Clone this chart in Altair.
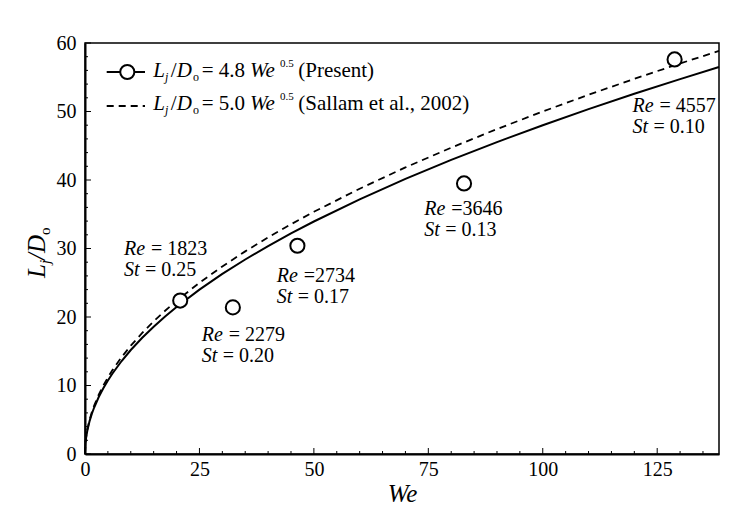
import altair as alt
import pandas as pd

FONT = "Liberation Serif"

# ---- data ----
we_curve = [0, 0.1, 0.25, 0.5, 1, 1.5, 2, 3, 4, 5, 6, 8, 10, 12.5, 15, 17.5, 20, 25, 30,
            35, 40, 45, 50, 60, 70, 80, 90, 100, 110, 120, 130, 138.5]
l_present = [0, 1.518, 2.4, 3.394, 4.8, 5.879, 6.788, 8.314, 9.6, 10.733, 11.758, 13.576,
             15.179, 16.971, 18.590, 20.080, 21.466, 24.0, 26.291, 28.397, 30.358, 32.199,
             33.941, 37.181, 40.160, 42.933, 45.537, 48.0, 50.343, 52.582, 54.729, 56.489]
l_sallam = [0, 1.581, 2.5, 3.536, 5.0, 6.124, 7.071, 8.660, 10.0, 11.180, 12.247, 14.142,
            15.811, 17.678, 19.365, 20.917, 22.361, 25.0, 27.386, 29.580, 31.623, 33.541,
            35.355, 38.730, 41.833, 44.721, 47.434, 50.0, 52.440, 54.772, 57.009, 58.843]

we_pts = [20.8, 32.3, 46.4, 82.8, 128.8]
l_pts = [22.4, 21.4, 30.4, 39.5, 57.6]

re_vals = ["= 1823", "= 2279", "=2734", "=3646", "= 4557"]
st_vals = ["= 0.25", "= 0.20", "= 0.17", "= 0.13", "= 0.10"]
label_we = [8.5, 25.5, 41.9, 74.1, 119.6]
label_l = [29.0, 16.5, 25.1, 34.9, 50.0]

x_major = [0, 25, 50, 75, 100, 125]
x_minor = [v for v in range(5, 140, 5) if v % 25 != 0]
y_major = [0, 10, 20, 30, 40, 50, 60]
y_minor = [v for v in range(2, 60, 2) if v % 10 != 0]

X_DOMAIN = [0, 138.5]
Y_DOMAIN = [0, 60]
W, H = 634, 411

xs = alt.Scale(domain=X_DOMAIN, nice=False, zero=False)
ys = alt.Scale(domain=Y_DOMAIN, nice=False, zero=False)

present_df = pd.DataFrame({"We": we_curve, "L": l_present})
sallam_df = pd.DataFrame({"We": we_curve, "L": l_sallam})
pts_df = pd.DataFrame({"We": we_pts, "L": l_pts})
lab_df = pd.DataFrame({"We": label_we, "L": label_l, "re": re_vals, "st": st_vals})

axis_x = alt.Axis(values=x_major, title="We", ticks=False, grid=False, domain=True,
                  domainColor="black", domainWidth=2, labelFont=FONT, labelFontSize=20,
                  labelColor="black", labelPadding=5, titleFont=FONT, titleFontSize=25,
                  titleFontStyle="italic", titleFontWeight="normal", titleColor="black",
                  titlePadding=2, labelFlush=False)
axis_y = alt.Axis(values=y_major, title="", ticks=False, grid=False, domain=True,
                  domainColor="black", domainWidth=2, labelFont=FONT, labelFontSize=20,
                  labelColor="black", labelPadding=9, labelFlush=False)

def X(field):
    return alt.X(field, scale=xs, axis=axis_x, title="We")

def Y(field):
    return alt.Y(field, scale=ys, axis=axis_y, title="")

present = alt.Chart(present_df).mark_line(color="black", strokeWidth=2).encode(
    x=X("We:Q"), y=Y("L:Q"))
sallam = alt.Chart(sallam_df).mark_line(color="black", strokeWidth=1.8, strokeDash=[7, 5]).encode(
    x=X("We:Q"), y=Y("L:Q"))
points = alt.Chart(pts_df).mark_point(shape="circle", size=200, filled=True, fill="white",
                                      stroke="black", strokeWidth=2, opacity=1).encode(
    x=X("We:Q"), y=Y("L:Q"))

def lab(text_enc, dx, dy, italic):
    return alt.Chart(lab_df).mark_text(align="left", baseline="alphabetic", font=FONT,
                                       fontSize=20, fontStyle="italic" if italic else "normal",
                                       color="black", dx=dx, dy=dy).encode(
        x=X("We:Q"), y=Y("L:Q"), text=text_enc)

labels = [
    lab(alt.value("Re"), 0, 0, True),
    lab(alt.Text("re:N"), 27, 0, False),
    lab(alt.value("St"), 0, 21, True),
    lab(alt.Text("st:N"), 21, 21, False),
]

# inward ticks
xmaj = alt.Chart(pd.DataFrame({"t": x_major})).mark_rule(color="black", strokeWidth=1).encode(
    x=X("t:Q"), y=alt.value(H), y2=alt.value(H - 6))
xmin = alt.Chart(pd.DataFrame({"t": x_minor})).mark_rule(color="black", strokeWidth=1).encode(
    x=X("t:Q"), y=alt.value(H), y2=alt.value(H - 3))
ymaj = alt.Chart(pd.DataFrame({"t": y_major})).mark_rule(color="black", strokeWidth=1).encode(
    y=Y("t:Q"), x=alt.value(0), x2=alt.value(6))
ymin = alt.Chart(pd.DataFrame({"t": y_minor})).mark_rule(color="black", strokeWidth=1).encode(
    y=Y("t:Q"), x=alt.value(0), x2=alt.value(3))

def piece(txt, x, y, size, italic=False, angle=0):
    kw = dict(align="left", baseline="alphabetic", font=FONT, fontSize=size,
              fontStyle="italic" if italic else "normal", color="black")
    if angle:
        kw["angle"] = angle
    return alt.Chart().mark_text(**kw).encode(
        x=alt.value(x), y=alt.value(y), text=alt.value(txt))

# legend
legend = []
for row, (coef, src) in enumerate([("= 4.8", "(Present)"), ("= 5.0", "(Sallam et al., 2002)")]):
    b = 34 + 33 * row
    legend += [
        piece("L", 68.3, b, 21, True),
        piece("j", 80, b + 4, 12, True),
        piece("/", 85.7, b, 21),
        piece("D", 91.7, b, 21, True),
        piece("o", 108, b + 4, 12),
        piece(coef, 116.7, b, 21),
        piece("We", 165, b, 21, True),
        piece("0.5", 195, b - 10, 11),
        piece(src, 213.3, b, 21),
    ]
sym1_line = alt.Chart().mark_rule(color="black", strokeWidth=2).encode(
    x=alt.value(21.7), x2=alt.value(60), y=alt.value(29))
sym1_pt = alt.Chart().mark_point(shape="circle", size=200, filled=True, fill="white",
                                 stroke="black", strokeWidth=2, opacity=1).encode(
    x=alt.value(42.3), y=alt.value(29))
sym2_line = alt.Chart().mark_rule(color="black", strokeWidth=1.8, strokeDash=[7, 5]).encode(
    x=alt.value(21.7), x2=alt.value(60), y=alt.value(63))

# y-axis title L_j/D_o, rotated
ytitle = [
    piece("L", -40, 235, 25, True, 270),
    piece("j", -35, 221.1, 15, True, 270),
    piece("/", -40, 216.9, 25, True, 270),
    piece("D", -40, 209.9, 25, True, 270),
    piece("o", -35, 191.9, 15, False, 270),
]

chart = alt.layer(
    present, sallam, points, *labels, xmaj, xmin, ymaj, ymin,
    sym1_line, sym1_pt, sym2_line, *legend, *ytitle,
).properties(
    width=W, height=H,
    autosize=alt.AutoSizeParams(type="none"),
    padding={"left": 77, "top": 35, "right": 20, "bottom": 54},
    background="white",
).configure_view(stroke="black", strokeWidth=1.5)

chart.save("out.html", embed_options={"renderer": "svg", "actions": False})
